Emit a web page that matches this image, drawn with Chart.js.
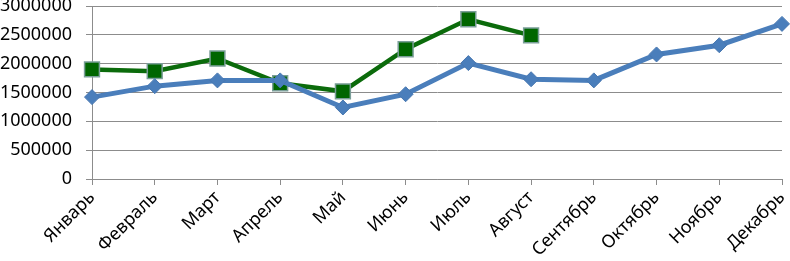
<!DOCTYPE html>
<html>
<head>
<meta charset="utf-8">
<script src="https://cdn.jsdelivr.net/npm/chart.js@4.4.1/dist/chart.umd.min.js"></script>
<style>
  html, body { margin: 0; padding: 0; background: #fff; }
  #wrap { width: 790px; height: 261px; }
</style>
</head>
<body>
<div id="wrap"><canvas id="chart"></canvas></div>
<script>
/* ── data ─────────────────────────────────────────────── */
const months = ['Январь', 'Февраль', 'Март', 'Апрель', 'Май', 'Июнь',
                'Июль', 'Август', 'Сентябрь', 'Октябрь', 'Ноябрь', 'Декабрь'];

const blueSeries  = [1420000, 1610000, 1710000, 1710000, 1240000, 1470000,
                     2010000, 1730000, 1710000, 2160000, 2320000, 2690000];

const greenSeries = [1900000, 1870000, 2090000, 1660000, 1520000, 2250000,
                     2770000, 2490000];

const yMin  = 0;
const yMax  = 3000000;
const yStep = 500000;

/* ── chart ────────────────────────────────────────────── */
const yFont = { family: 'Noto Sans', size: 18 };
const xFont = { family: 'Noto Sans', size: 18 };

// fixed axis sizes; the top tick label is allowed to run off the canvas
const fitY = scale => {
  scale.paddingTop = 0;
  scale.paddingBottom = 0;
  scale.width = 92;
};
const fitX = scale => {
  scale.paddingLeft = 0;
  scale.paddingRight = 0;
  scale.height = 82;
};

new Chart(document.getElementById('chart'), {
  type: 'line',
  data: {
    labels: months,
    datasets: [
      {
        data            : blueSeries,
        borderColor     : '#4a7ebb',
        backgroundColor : '#4a7ebb',
        borderWidth     : 5,
        pointStyle      : 'rectRot',
        pointRadius     : 7.5,
        pointBorderColor: '#4777b0',
        pointBorderWidth: 1,
        tension         : 0,
      },
      {
        data            : greenSeries,
        borderColor     : '#0b6b0b',
        backgroundColor : '#006600',
        borderWidth     : 4.5,
        pointStyle      : 'rect',
        pointRadius     : 10.5,
        pointBorderColor: '#7a9e98',
        pointBorderWidth: 1.5,
        tension         : 0,
      }
    ]
  },
  options: {
    responsive: true,
    maintainAspectRatio: false,
    animation: false,
    layout: { autoPadding: false, padding: { top: 6, right: 8, left: 0, bottom: 0 } },
    scales: {
      x: {
        offset  : false,
        afterFit: fitX,
        grid    : { drawOnChartArea: false, drawTicks: true, tickLength: 6, color: '#8c8c8c' },
        border  : { color: '#8c8c8c' },
        ticks   : { font: xFont, color: '#000', maxRotation: 45, minRotation: 45, padding: 2 },
      },
      y: {
        min: yMin,
        max: yMax,
        afterFit: fitY,
        grid    : { color: '#8c8c8c', tickLength: 6, lineWidth: 1 },
        border  : { color: '#8c8c8c' },
        ticks   : { font: yFont, color: '#000', stepSize: yStep, padding: 14,
                    callback: v => String(v) },
      }
    },
    plugins: {
      legend : { display: false },
      tooltip: { enabled: false }
    }
  }
});
</script>
</body>
</html>
